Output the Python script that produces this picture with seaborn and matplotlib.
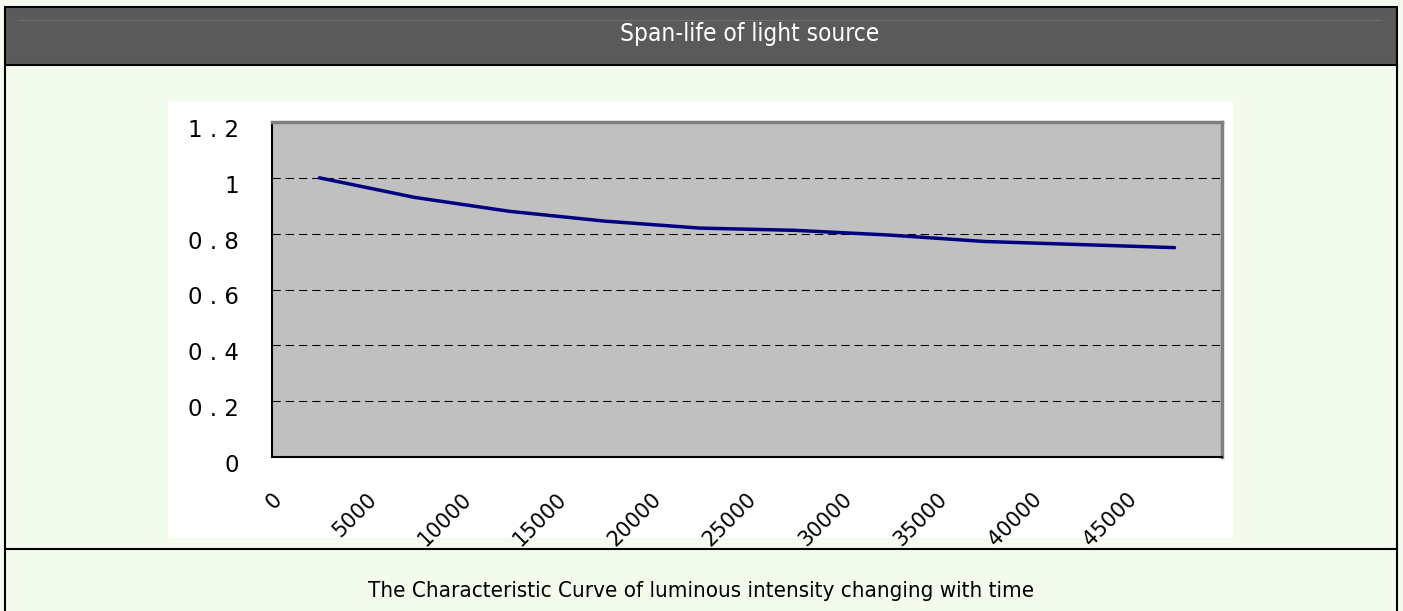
import numpy as np
import pandas as pd
import matplotlib
matplotlib.use("Agg")
import matplotlib.pyplot as plt
from matplotlib.patches import Rectangle
from matplotlib.lines import Line2D
from matplotlib.ticker import MultipleLocator
from matplotlib.transforms import ScaledTranslation
import seaborn as sns

# data
hours = ["0", "5000", "10000", "15000", "20000", "25000", "30000", "35000", "40000", "45000"]
intensity = [1.0, 0.93, 0.88, 0.845, 0.82, 0.812, 0.795, 0.772, 0.761, 0.75]
y_ticks = [0, 0.2, 0.4, 0.6, 0.8, 1.0, 1.2]
y_labels = ["0", "0 . 2", "0 . 4", "0 . 6", "0 . 8", "1", "1 . 2"]
title = "Span-life of light source"
caption = "The Characteristic Curve of luminous intensity changing with time"

sns.set_style("white")

W, H = 1403, 611
fig = plt.figure(figsize=(W / 100, H / 100), dpi=100, facecolor="#F3FCEC")


def fx(x):
    return x / W


def fy(y):
    return 1 - y / H


def box(x0, y0, x1, y1, color):
    fig.patches.append(Rectangle((fx(x0), fy(y1)), fx(x1) - fx(x0), fy(y0) - fy(y1),
                                 transform=fig.transFigure, facecolor=color,
                                 edgecolor="none", zorder=-1))


def line(x0, y0, x1, y1, color="black", lw=1.5):
    fig.lines.append(Line2D([fx(x0), fx(x1)], [fy(y0), fy(y1)], transform=fig.transFigure,
                            color=color, lw=lw, solid_capstyle="butt"))


# table-like frame
box(5, 7, 1397, 65, "#5A5A5A")
box(168, 101, 1233, 538, "white")
line(19, 20, 1382, 20, "#6E6E6E", 0.8)
line(4, 7, 1398, 7)
line(4, 65, 1398, 65)
line(4, 549, 1398, 549)
line(5, 7, 5, 611)
line(1397, 7, 1397, 611)

fig.text(fx(750), fy(41), title, color="white", fontsize=17.5,
         family="DejaVu Sans", fontstretch="condensed", ha="center", va="baseline")
fig.text(fx(701), fy(597), caption, color="black", fontsize=16,
         family="DejaVu Sans", fontstretch="condensed", ha="center", va="baseline")

# chart
ax = fig.add_axes([fx(272), fy(457), fx(1222) - fx(272), fy(122) - fy(457)])
df = pd.DataFrame({"pos": np.arange(len(hours)), "value": intensity})
sns.lineplot(data=df, x="pos", y="value", color="#000080", lw=2.5, ax=ax)

ax.set_facecolor("#C0C0C0")
ax.set_xlim(-0.5, len(hours) - 0.5)
ax.set_ylim(0, 1.2)
ax.set_xlabel("")
ax.set_ylabel("")

ax.set_xticks(np.arange(len(hours)), hours)
ax.set_xticks(np.arange(-0.5, len(hours), 1.0), minor=True)
ax.tick_params(axis="x", which="both", direction="in", length=6, width=1, color="black",
               pad=28, labelsize=15, labelcolor="black")
for lbl in ax.get_xticklabels():
    lbl.set_rotation(45)
    lbl.set_ha("right")
    lbl.set_va("center")
    lbl.set_rotation_mode("anchor")
    lbl.set_transform(lbl.get_transform() + ScaledTranslation(-0.41, 0, fig.dpi_scale_trans))

ax.set_yticks(y_ticks, y_labels)
ax.yaxis.set_minor_locator(MultipleLocator(0.04))
ax.tick_params(axis="y", which="both", direction="in", length=8, width=1, color="black",
               pad=24, labelsize=16.5, labelcolor="black")
for lbl in ax.get_yticklabels():
    lbl.set_transform(lbl.get_transform() + ScaledTranslation(0, -0.06, fig.dpi_scale_trans))

ax.yaxis.grid(True, which="major", color="black", lw=0.75, linestyle=(0, (8, 4.7)))
ax.xaxis.grid(False)
ax.set_axisbelow(True)

for side in ["left", "bottom"]:
    ax.spines[side].set_color("black")
    ax.spines[side].set_linewidth(1.5)
for side in ["top", "right"]:
    ax.spines[side].set_color("#808080")
    ax.spines[side].set_linewidth(2.5)

fig.savefig("out.png", dpi=100, facecolor=fig.get_facecolor())
